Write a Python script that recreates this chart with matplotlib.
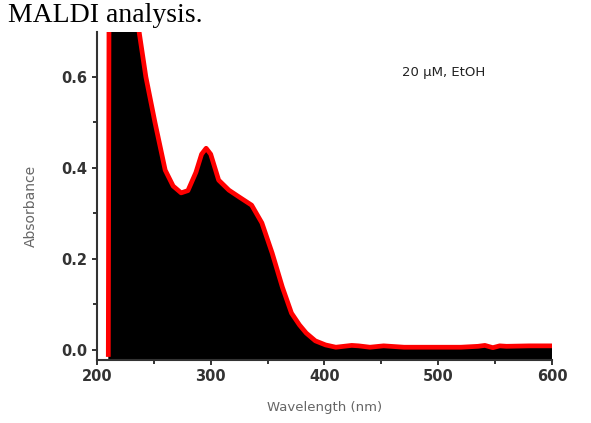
import numpy as np
import matplotlib.pyplot as plt
from matplotlib.ticker import MultipleLocator

# UV-vis absorbance, 20 uM in EtOH
wavelength = [210, 211, 220, 230, 237, 243, 251, 260, 267, 274, 280, 287,
              292, 296, 300, 307, 316, 325, 336, 345, 354, 363, 371, 378,
              384, 392, 401, 410, 424, 430, 440, 452, 470, 500, 520, 535,
              541, 548, 554, 560, 580, 600]
absorbance = [-0.01, 1.2, 0.95, 0.78, 0.70, 0.60, 0.50, 0.395, 0.36, 0.345,
              0.35, 0.39, 0.43, 0.443, 0.43, 0.373, 0.351, 0.336, 0.318,
              0.279, 0.213, 0.138, 0.081, 0.055, 0.037, 0.02, 0.011, 0.006,
              0.01, 0.009, 0.006, 0.009, 0.006, 0.006, 0.006, 0.008, 0.01,
              0.005, 0.009, 0.008, 0.009, 0.009]
x_ticks = [200, 300, 400, 500, 600]
y_ticks = [0.0, 0.2, 0.4, 0.6]

fig = plt.figure(figsize=(5.91, 4.23), dpi=100)
ax = fig.add_axes([0.164, 0.149, 0.770, 0.775])

ymin = -0.022
ax.fill_between(wavelength, absorbance, ymin, color='black', lw=0)
ax.plot(wavelength, absorbance, color='red', lw=3.4, solid_joinstyle='round')

ax.set_xlim(200, 600)
ax.set_ylim(ymin, 0.698)
ax.set_xticks(x_ticks)
ax.set_yticks(y_ticks)
ax.set_yticklabels([f'{v:.1f}' for v in y_ticks])
ax.xaxis.set_minor_locator(MultipleLocator(50))
ax.yaxis.set_minor_locator(MultipleLocator(0.1))

for s in ['top', 'right']:
    ax.spines[s].set_visible(False)
for s in ['left', 'bottom']:
    ax.spines[s].set_linewidth(1.5)
    ax.spines[s].set_color('#333333')
ax.tick_params(which='both', direction='out', width=1.4, colors='#333333',
               labelsize=10.5, pad=3)
ax.tick_params(which='major', length=3.8)
ax.tick_params(which='minor', length=3)
for lab in ax.get_xticklabels() + ax.get_yticklabels():
    lab.set_fontweight('bold')
    lab.set_fontfamily('DejaVu Sans')

ax.set_xlabel('Wavelength (nm)', fontsize=9.5, color='#666666',
              family='DejaVu Sans')
ax.xaxis.set_label_coords(0.5, -0.125)
ax.set_ylabel('Absorbance', fontsize=10, color='#666666',
              family='DejaVu Sans')
ax.yaxis.set_label_coords(-0.13, 0.47)
ax.text(468, 0.61, '20 μM, EtOH', fontsize=9.5, family='DejaVu Sans',
        color='#222222', va='center')

# caption line of the surrounding document
fig.text(8 / 591, 1 - 22 / 423, 'MALDI analysis.', fontsize=20,
         family='Liberation Serif', va='baseline')

fig.savefig('out.png', dpi=100)
